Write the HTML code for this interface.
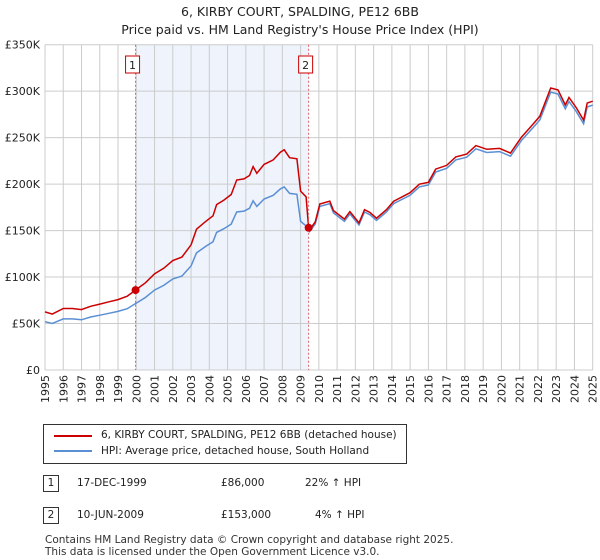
<!DOCTYPE html>
<html><head><meta charset="utf-8"><style>
body{margin:0;background:#fff;font-family:"DejaVu Sans","Liberation Sans",sans-serif;}
#wrap{position:relative;width:600px;height:560px;overflow:hidden}
.t{position:absolute;font-size:13px;color:#222}
svg text{font-family:"DejaVu Sans","Liberation Sans",sans-serif}
</style></head><body><div id="wrap">
<div class="t" style="left:0;width:600px;text-align:center;top:4px;font-size:12.5px">6, KIRBY COURT, SPALDING, PE12 6BB</div>
<div class="t" style="left:0;width:600px;text-align:center;top:22px;font-size:12.5px">Price paid vs. HM Land Registry's House Price Index (HPI)</div>
<svg id="chart" width="600" height="410" style="position:absolute;left:0;top:0"></svg>
<div style="position:absolute;left:43px;top:424px;width:362px;height:38px;border:1px solid #333;font-size:10.5px;color:#222">
<div style="position:absolute;left:10px;top:5px;width:38px;height:2px;background:#cc0000;margin-top:5px"></div>
<div style="position:absolute;left:57px;top:4px">6, KIRBY COURT, SPALDING, PE12 6BB (detached house)</div>
<div style="position:absolute;left:10px;top:24px;width:38px;height:2px;background:#5b8fd4;margin-top:1px"></div>
<div style="position:absolute;left:57px;top:20px">HPI: Average price, detached house, South Holland</div>
</div>
<div style="position:absolute;top:475px;left:0;width:600px;font-size:10.5px;color:#222">
<div style="position:absolute;left:43px;top:0;width:14px;height:15px;border:1px solid #333;text-align:center;line-height:15px">1</div>
<div style="position:absolute;left:77px;top:2px">17-DEC-1999</div><div style="position:absolute;left:221px;top:2px">£86,000</div><div style="position:absolute;left:305px;top:2px">22% ↑ HPI</div></div>
<div style="position:absolute;top:507px;left:0;width:600px;font-size:10.5px;color:#222">
<div style="position:absolute;left:43px;top:0;width:14px;height:15px;border:1px solid #333;text-align:center;line-height:15px">2</div>
<div style="position:absolute;left:77px;top:2px">10-JUN-2009</div><div style="position:absolute;left:221px;top:2px">£153,000</div><div style="position:absolute;left:315px;top:2px">4% ↑ HPI</div></div>
<div style="position:absolute;left:45px;top:534px;font-size:10.5px;color:#333;line-height:12px">Contains HM Land Registry data © Crown copyright and database right 2025.<br>This data is licensed under the Open Government Licence v3.0.</div>
</div>
<script>
const yearTicks=[1995,1996,1997,1998,1999,2000,2001,2002,2003,2004,2005,2006,2007,2008,2009,2010,2011,2012,2013,2014,2015,2016,2017,2018,2019,2020,2021,2022,2023,2024,2025];
const priceTicks=[0,50000,100000,150000,200000,250000,300000,350000];
const priceTickLabels=["£0","£50K","£100K","£150K","£200K","£250K","£300K","£350K"];
const hpiYears=[1995,1995.4,1996,1996.5,1997,1997.5,1998,1998.5,1999,1999.5,2000,2000.5,2001,2001.5,2002,2002.5,2003,2003.3,2003.8,2004.2,2004.4,2004.8,2005.2,2005.5,2005.9,2006.2,2006.4,2006.6,2007,2007.5,2007.9,2008.1,2008.4,2008.8,2009.0,2009.3,2009.5,2009.8,2010.05,2010.6,2010.8,2011.4,2011.7,2012.2,2012.5,2012.8,2013.16,2013.7,2014.1,2015,2015.5,2016,2016.4,2017,2017.5,2018.1,2018.6,2019.2,2019.9,2020.5,2021.1,2021.7,2022.1,2022.7,2023.1,2023.5,2023.7,2024.1,2024.5,2024.7,2025];
const hpiValues=[52,50,55,55,54,57,59,61,63,66,72,78,86,91,98,101,112,126,133,138,148,152,157,170,171,174,182,176,184,188,195,197,190,189,160,155,149,157,176,179,169,160,168,156,170,167,161,170,179,188,197,199,213,217,226,229,238,234,235,230,247,260,269,299,297,281,289,278,265,283,285];
const saleYears=[1999.96,2009.44];
const salePrices=[86000,153000];
const saleLabels=["1","2"];
const svg=document.getElementById('chart');const NS='http://www.w3.org/2000/svg';
const X0=45,X1=592.7,Y0=370,Y1=44.7;
const x=y=>X0+(y-1995)/30*(X1-X0);
const yv=v=>Y0-v/350000*(Y0-Y1);
function mk(t,a,p){const e=document.createElementNS(NS,t);for(const k in a)e.setAttribute(k,a[k]);(p||svg).appendChild(e);return e;}
function hpiAt(t){for(let i=1;i<hpiYears.length;i++){if(t<=hpiYears[i]){const f=(t-hpiYears[i-1])/(hpiYears[i]-hpiYears[i-1]);return (hpiValues[i-1]+f*(hpiValues[i]-hpiValues[i-1]))*1000;}}return hpiValues[hpiValues.length-1]*1000;}
let r=mk('rect',{x:x(saleYears[0]),y:Y1,width:x(saleYears[1])-x(saleYears[0]),height:Y0-Y1,fill:'#eef3fc'});


yearTicks.forEach(t=>{const l=mk('line',{x1:x(t),x2:x(t),y1:Y1,y2:Y0,stroke:'#ccc','stroke-width':1});


const tx=mk('text',{x:0,y:0,transform:`translate(${x(t)+4},${Y0+5}) rotate(-90)`,'text-anchor':'end','font-size':11,fill:'#222'});tx.textContent=t;

});
priceTicks.forEach((v,i)=>{const l=mk('line',{x1:X0,x2:X1,y1:yv(v),y2:yv(v),stroke:'#ccc','stroke-width':1});


const tx=mk('text',{x:40,y:yv(v)+4,'text-anchor':'end','font-size':11,fill:'#222'});tx.textContent=priceTickLabels[i];

});
let hp='',rp='';
const f0=salePrices[0]/hpiAt(saleYears[0]),f1=salePrices[1]/hpiAt(saleYears[1]);
hpiYears.forEach((t,i)=>{hp+=(i?'L':'M')+x(t).toFixed(1)+','+yv(hpiValues[i]*1000).toFixed(1);});
const pts=[];hpiYears.forEach(t=>pts.push(t));pts.push(saleYears[0],saleYears[1]);pts.sort((a,b)=>a-b);
pts.forEach((t,i)=>{const f=t<saleYears[1]?f0:f1;let v=hpiAt(t)*f;rp+=(i?'L':'M')+x(t).toFixed(1)+','+yv(v).toFixed(1);});
let p=mk('path',{d:hp,fill:'none',stroke:'#5b8fd4','stroke-width':1.5});


p=mk('path',{d:rp,fill:'none',stroke:'#cc0000','stroke-width':1.5});


saleYears.forEach((t,i)=>{const l=mk('line',{x1:x(t),x2:x(t),y1:Y1,y2:Y0,stroke:'#e06060','stroke-width':1,'stroke-dasharray':'2,2'});


const c=mk('circle',{cx:x(t),cy:yv(salePrices[i]),r:4,fill:'#cc0000'});


const b=mk('rect',{x:x(t)-10,y:56,width:14,height:17,fill:'#fff',stroke:'#cc0000'});


const tx=mk('text',{x:x(t)-3,y:69,'text-anchor':'middle','font-size':11,fill:'#222'});tx.textContent=saleLabels[i];

});
</script></body></html>
